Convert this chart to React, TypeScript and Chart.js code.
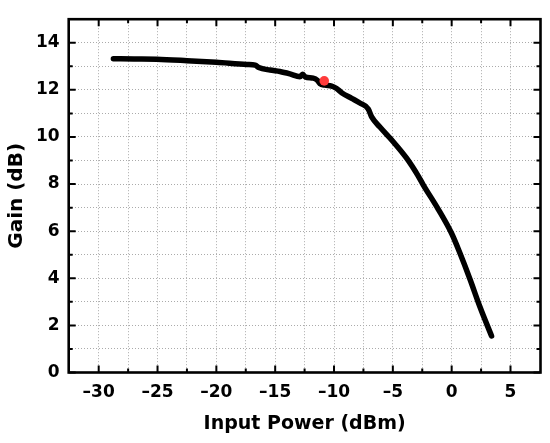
import { useEffect, useRef } from "react";
import { Chart, registerables } from "chart.js";

Chart.register(...registerables);

// Measured curve: input power (dBm) vs gain (dB)
const inputPower = [
  -28.75, -27.0, -25.07, -22.5, -20.0, -17.4, -16.7, -16.4, -15.44, -14.6,
  -13.75, -12.9, -12.65, -12.45, -11.77, -11.4, -11.2, -10.77, -10.2, -9.78,
  -9.35, -8.5, -7.8, -7.09, -6.8, -6.1, -4.97, -3.83, -2.85, -2.42,
  -1.15, 0.0, 0.7, 1.55, 2.4, 3.39,
];
const gain = [
  13.32, 13.31, 13.3, 13.24, 13.17, 13.08, 13.05, 12.95, 12.84, 12.78,
  12.68, 12.56, 12.66, 12.55, 12.5, 12.4, 12.27, 12.2, 12.16, 12.06,
  11.88, 11.64, 11.44, 11.19, 10.85, 10.42, 9.8, 9.1, 8.35, 7.97,
  6.94, 5.9, 5.07, 3.97, 2.79, 1.55,
];

// Highlighted point
const markerPower = [-10.83];
const markerGain = [12.38];

// Axes
const xLimits = [-32.55, 7.55];
const yLimits = [0, 15];
const xMajorTicks = [-30, -25, -20, -15, -10, -5, 0, 5];
const xMinorTicks = [-27.5, -22.5, -17.5, -12.5, -7.5, -2.5, 2.5];
const yMajorTicks = [0, 2, 4, 6, 8, 10, 12, 14];
const yMinorTicks = [1, 3, 5, 7, 9, 11, 13];
const xTitle = "Input Power (dBm)";
const yTitle = "Gain (dB)";

const fmt = (v: number) => (v < 0 ? "\u2013" + Math.abs(v) : String(v));

const framePlugin = {
  id: "frameTicks",
  afterDraw(chart: any) {
    const { ctx, chartArea, scales } = chart;
    const { left, right, top, bottom } = chartArea;
    const xs = scales.x;
    const ys = scales.y;
    ctx.save();
    ctx.strokeStyle = "#000";
    ctx.lineWidth = 2;
    ctx.beginPath();
    const tickX = (v: number, len: number) => {
      const p = xs.getPixelForValue(v);
      ctx.moveTo(p, bottom);
      ctx.lineTo(p, bottom - len);
      ctx.moveTo(p, top);
      ctx.lineTo(p, top + len);
    };
    const tickY = (v: number, len: number) => {
      const p = ys.getPixelForValue(v);
      ctx.moveTo(left, p);
      ctx.lineTo(left + len, p);
      ctx.moveTo(right, p);
      ctx.lineTo(right - len, p);
    };
    xMajorTicks.forEach((v) => tickX(v, 7));
    xMinorTicks.forEach((v) => tickX(v, 4));
    yMajorTicks.forEach((v) => tickY(v, 7));
    yMinorTicks.forEach((v) => tickY(v, 4));
    ctx.stroke();
    ctx.lineWidth = 2.6;
    ctx.strokeRect(left, top, right - left, bottom - top);
    ctx.restore();
  },
};

export default function App() {
  const ref = useRef<HTMLCanvasElement | null>(null);

  useEffect(() => {
    if (!ref.current) return;
    Chart.defaults.font.family = "'DejaVu Sans', sans-serif";
    const xAll = [...xMajorTicks, ...xMinorTicks].sort((a, b) => a - b);
    const yAll = [...yMajorTicks, ...yMinorTicks].sort((a, b) => a - b);
    const chart = new Chart(ref.current, {
      type: "scatter",
      data: {
        datasets: [
          {
            label: "marker",
            data: markerPower.map((x, i) => ({ x, y: markerGain[i] })),
            showLine: false,
            pointRadius: 4.8,
            pointBackgroundColor: "#ff3b3b",
            pointBorderWidth: 0,
            order: 0,
          },
          {
            label: "gain",
            data: inputPower.map((x, i) => ({ x, y: gain[i] })),
            showLine: true,
            borderColor: "#000",
            borderWidth: 5.5,
            pointRadius: 0,
            cubicInterpolationMode: "monotone",
            borderCapStyle: "round",
            borderJoinStyle: "round",
            fill: false,
            order: 1,
          },
        ],
      },
      options: {
        responsive: false,
        animation: false,
        layout: { padding: { top: 10.5, right: 9.5, left: 0, bottom: 0 } },
        plugins: { legend: { display: false }, tooltip: { enabled: false } },
        scales: {
          x: {
            type: "linear",
            min: xLimits[0],
            max: xLimits[1],
            afterBuildTicks: (s: any) => {
              s.ticks = xAll.map((value) => ({ value }));
            },
            afterFit: (s: any) => {
              s.height = 70.5;
            },
            ticks: {
              autoSkip: false,
              maxRotation: 0,
              padding: 10,
              color: "#000",
              font: { size: 17, weight: "bold" },
              callback: (v: any) => (xMajorTicks.includes(Number(v)) ? fmt(Number(v)) : ""),
            },
            grid: { color: "#ababab", lineWidth: 1, drawTicks: false },
            border: { display: false, dash: [1, 2] },
            title: {
              display: true,
              text: xTitle,
              color: "#000",
              font: { size: 19, weight: "bold" },
              padding: { top: 0, bottom: 8 },
            },
          },
          y: {
            type: "linear",
            min: yLimits[0],
            max: yLimits[1],
            afterBuildTicks: (s: any) => {
              s.ticks = yAll.map((value) => ({ value }));
            },
            afterFit: (s: any) => {
              s.width = 68.7;
            },
            ticks: {
              autoSkip: false,
              padding: 9,
              color: "#000",
              font: { size: 17, weight: "bold" },
              callback: (v: any) => (yMajorTicks.includes(Number(v)) ? fmt(Number(v)) : ""),
            },
            grid: { color: "#ababab", lineWidth: 1, drawTicks: false },
            border: { display: false, dash: [1, 2] },
            title: {
              display: true,
              text: yTitle,
              color: "#000",
              font: { size: 20, weight: "bold" },
              padding: { top: 5, bottom: 0 },
            },
          },
        },
      },
      plugins: [framePlugin],
    } as any);
    return () => chart.destroy();
  }, []);

  return (
    <div style={{ position: "absolute", left: 0, top: 0, width: 550, height: 443, background: "#fff" }}>
      <canvas ref={ref} width={550} height={443} />
    </div>
  );
}
